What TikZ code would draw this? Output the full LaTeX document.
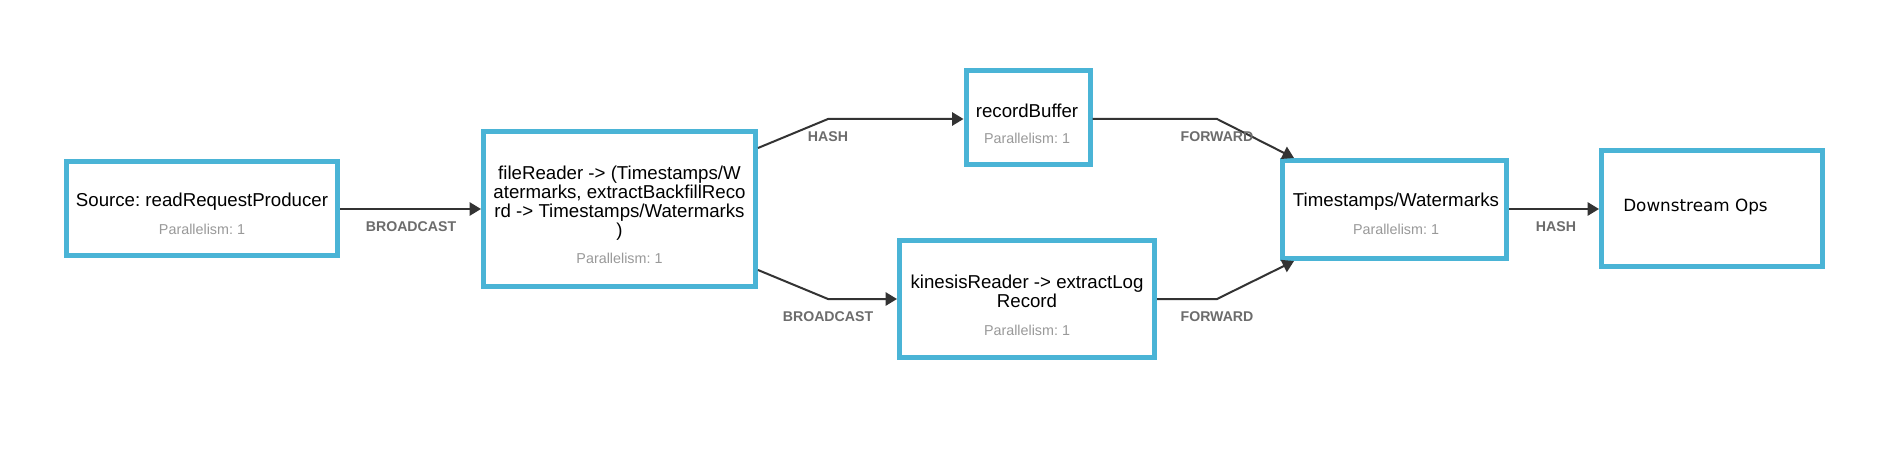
\documentclass[tikz,border=0pt]{standalone}
\usepackage{fontspec}
\setmainfont{Liberation Sans}
\newfontfamily\dejavu{DejaVu Sans}
\usetikzlibrary{arrows.meta,calc}
\definecolor{boxblue}{RGB}{74,180,214}
\definecolor{edgegray}{RGB}{51,51,51}
\definecolor{lblgray}{RGB}{108,108,108}
\definecolor{pargray}{RGB}{153,153,153}
\frenchspacing
\begin{document}
\begin{tikzpicture}[x=0.75pt,y=-0.75pt,
  opbox/.style={draw=boxblue,line width=3.75pt,fill=white,inner sep=0pt},
  optext/.style={font=\fontsize{14}{14}\selectfont,anchor=base,inner sep=0pt,text=black},
  partext/.style={font=\fontsize{10.75}{11}\selectfont,anchor=base,inner sep=0pt,text=pargray},
  elabel/.style={font=\bfseries\fontsize{10.6}{11}\selectfont,anchor=base,inner sep=0pt,text=lblgray},
  edge/.style={draw=edgegray,line width=1.5pt,-{Triangle[length=8.6pt,width=10pt]}}]
\useasboundingbox[fill=white] (0,0) rectangle (1898,449);

% boxes
\node[opbox,minimum width=203.25pt,minimum height=70.5pt] (src) at (202,208.5) {};
\node[opbox,minimum width=204pt,minimum height=116.25pt] (file) at (619.5,209) {};
\node[opbox,minimum width=93pt,minimum height=70.5pt] (rec) at (1028,117.5) {};
\node[opbox,minimum width=191.25pt,minimum height=87.75pt] (kin) at (1027,299) {};
\node[opbox,minimum width=168pt,minimum height=73.5pt] (ts) at (1394.5,209.5) {};
\node[opbox,minimum width=165.75pt,minimum height=87pt] (ds) at (1712,208.5) {};

% texts
\node[optext] (src-t) at (202,206.7) {Source: readRequestProducer};
\node[partext] (src-p) at (202,234) {Parallelism: 1};

\node[optext] (file-t1) at (619.5,179.5) {fileReader -> (Timestamps/W};
\node[optext] (file-t2) at (619.5,198.5) {atermarks, extractBackfillReco};
\node[optext] (file-t3) at (619.5,217.5) {rd -> Timestamps/Watermarks};
\node[optext] (file-t4) at (619.5,236.5) {)};
\node[partext] (file-p) at (619.5,263.3) {Parallelism: 1};

\node[optext] (rec-t) at (1027,117.7) {recordBuffer};
\node[partext] (rec-p) at (1027,144) {Parallelism: 1};

\node[optext] (kin-t1) at (1027,288) {kinesisReader -> extractLog};
\node[optext] (kin-t2) at (1027,307.3) {Record};
\node[partext] (kin-p) at (1027,335) {Parallelism: 1};

\node[optext] (ts-t) at (1396,206) {Timestamps/Watermarks};
\node[partext] (ts-p) at (1396,234) {Parallelism: 1};

\node[font={\dejavu\fontsize{12.6}{13}\selectfont},anchor=base west,inner sep=0pt] (ds-t) at (1623,211) {Downstream Ops};

% bend coordinates
\coordinate (b1) at (828,119);
\coordinate (b2) at (828,299);
\coordinate (b3) at (1217,119);
\coordinate (b4) at (1217,299);
\coordinate (tsin1) at (1294,158);
\coordinate (tsin2) at (1294,261);

% edges
\draw[edge] (src.east |- 0,209) -- (file.west |- 0,209);
\draw[edge] ([yshift=45.75pt]file.east) -- (b1) -- (rec.west |- b1);
\draw[edge] ([yshift=-45.75pt]file.east) -- (b2) -- (kin.west |- b2);
\draw[edge] (rec.east |- b3) -- (b3) -- (tsin1);
\draw[edge] (kin.east |- b4) -- (b4) -- (tsin2);
\draw[edge] (ts.east |- 0,209) -- (ds.west |- 0,209);

% edge labels
\node[elabel] (l1) at (411,231.7) {BROADCAST};
\node[elabel] (l2) at (828,141.7) {HASH};
\node[elabel] (l3) at (828,321.7) {BROADCAST};
\node[elabel] (l4) at (1217,141.7) {FORWARD};
\node[elabel] (l5) at (1217,321.7) {FORWARD};
\node[elabel] (l6) at (1556,231) {HASH};
\end{tikzpicture}
\end{document}
